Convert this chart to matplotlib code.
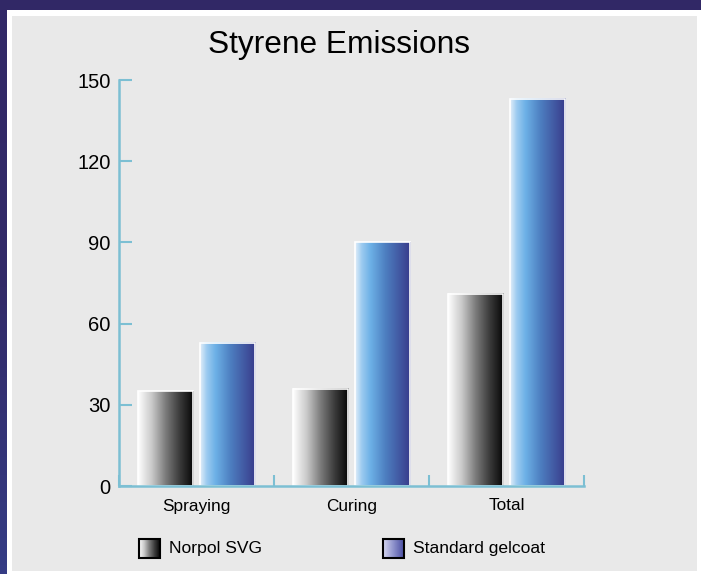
import matplotlib.pyplot as plt
import numpy as np
from matplotlib.colors import LinearSegmentedColormap
from matplotlib.patches import Rectangle

categories = ['Spraying', 'Curing', 'Total']
norpol = [35, 36, 71]
standard = [53, 90, 143]
yticks = [0, 30, 60, 90, 120, 150]
series_names = ['Norpol SVG', 'Standard gelcoat']

W, H = 701, 574
plt.rcParams['font.family'] = ['Liberation Sans', 'DejaVu Sans']

grey_cmap = LinearSegmentedColormap.from_list('grey', ['#ffffff', '#c8c8c8', '#7a7a7a', '#3a3a3a', '#050505'])
blue_cmap = LinearSegmentedColormap.from_list(
    'blue', [(0, '#e2eef9'), (0.12, '#9ccbf0'), (0.28, '#6cb0e6'), (0.55, '#4d7ec0'), (1, '#383a8a')])
legend_blue = LinearSegmentedColormap.from_list('lblue', ['#d6d7f0', '#8e92cc', '#4a4ea2'])
grad = np.linspace(0, 1, 256).reshape(1, -1)

fig = plt.figure(figsize=(W / 100, H / 100), dpi=100, facecolor='#332b6a')

# background frame + legend live on a pixel-coordinate axes
bg = fig.add_axes([0, 0, 1, 1])
bg.imshow(np.linspace(0, 1, 64).reshape(-1, 1), aspect='auto', extent=(0, W, H, 0),
          cmap=LinearSegmentedColormap.from_list('pp', ['#312866', '#322a68', '#353c84']))
bg.add_patch(Rectangle((7, 10), W - 7, H - 10, facecolor='white', lw=0))
bg.add_patch(Rectangle((12, 16), 685, 555, facecolor='#e9e9e9', lw=0))
bg.text(339, 53, 'Styrene Emissions', fontsize=22.8, ha='center', va='baseline')

# legend
for (bx, tx), name, cmap in zip([(139, 169), (383, 413)], series_names, [grey_cmap, legend_blue]):
    bg.imshow(grad, cmap=cmap, extent=(bx, bx + 21, 558, 539), aspect='auto', zorder=2)
    bg.add_patch(Rectangle((bx, 539), 21, 19, facecolor='none', edgecolor='black', lw=1.5, zorder=3))
    bg.text(tx, 549, name, fontsize=12.6, va='center', ha='left')
bg.set_xlim(0, W)
bg.set_ylim(H, 0)
bg.axis('off')

ax = fig.add_axes([119 / W, (H - 486) / H, 465 / W, 406 / H])
ax.set_facecolor('none')
x = np.arange(len(categories)) + 0.5
bars1 = ax.bar(x - 0.2, norpol, 0.36, facecolor='none', edgecolor='white', lw=1.2, zorder=3)
bars2 = ax.bar(x + 0.2, standard, 0.36, facecolor='none', edgecolor='white', lw=1.2, zorder=3)
for bars, cmap in [(bars1, grey_cmap), (bars2, blue_cmap)]:
    for r in bars:
        ax.imshow(grad, cmap=cmap, aspect='auto', zorder=2,
                  extent=(r.get_x(), r.get_x() + r.get_width(), 0, r.get_height()))

ax.set_xlim(0, 3)
ax.set_ylim(0, 150)
axis_color = '#7cbfd3'
for s in ['top', 'right']:
    ax.spines[s].set_visible(False)
for s in ['left', 'bottom']:
    ax.spines[s].set_color(axis_color)
    ax.spines[s].set_linewidth(1.8)
    ax.spines[s].set_zorder(4)

ax.set_yticks(yticks)
ax.tick_params(axis='y', direction='in', length=9, width=1.5, color=axis_color,
               labelsize=14.5, pad=6)
ax.set_xticks(x)
ax.set_xticklabels(categories, fontsize=12.4)
ax.tick_params(axis='x', which='major', length=0, pad=9)
ax.set_xticks([0, 1, 2, 3], minor=True)
ax.tick_params(axis='x', which='minor', direction='in', length=8, width=1.5, color=axis_color)

fig.savefig('out.png', dpi=100, facecolor=fig.get_facecolor())
